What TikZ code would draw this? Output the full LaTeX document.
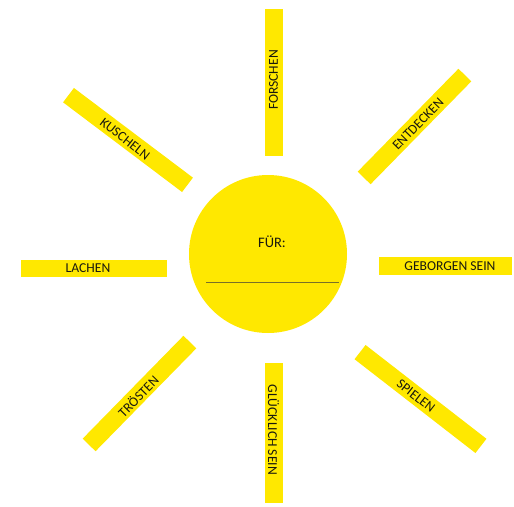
\documentclass[tikz,border=0pt]{standalone}
\usepackage{fontspec}
\setmainfont{Carlito}
\definecolor{sunyellow}{RGB}{255,232,0}
\definecolor{raytext}{RGB}{25,25,15}
\definecolor{lineol}{RGB}{120,112,40}
\begin{document}
\begin{tikzpicture}[x=1pt,y=-1pt,
  bar/.style={fill=sunyellow, draw=none, rectangle, inner sep=0pt, minimum height=18pt},
  raylabel/.style={text=raytext, font=\fontsize{13.6}{15}\selectfont, inner sep=0pt},
  sun/.style={circle, fill=sunyellow, draw=none, minimum size=158pt, inner sep=0pt}]
\useasboundingbox (0,0) rectangle (514,506);
\fill[white] (0,0) rectangle (514,506);
% sun
\node[sun] (sun) at (268,254) {};
\node[raylabel, font=\fontsize{14.5}{16}\selectfont] (fuer) at (272,242) {FÜR:};
\coordinate (lineL) at (206,282);
\coordinate (lineR) at (339,282);
\draw[lineol, line width=0.9pt] (lineL) -- (lineR);
% rays
\node[bar, minimum width=147pt, rotate=90] (forschen) at (273.5,82.5) {};
\node[raylabel, rotate=90] (forschenT) at (273.5,80) {FORSCHEN};
\node[bar, minimum width=140pt, rotate=-90] (gluecklich) at (273.5,433) {};
\node[raylabel, rotate=-90] (gluecklichT) at (273.5,430) {GLÜCKLICH SEIN};
\node[bar, minimum width=146pt, minimum height=17pt] (lachen) at (94,268.5) {};
\node[raylabel] (lachenT) at (88,268.5) {LACHEN};
\node[bar, minimum width=133pt] (geborgen) at (445.5,266) {};
\node[raylabel] (geborgenT) at (450,266) {GEBORGEN SEIN};
\node[bar, minimum width=149pt, rotate=-37] (kuscheln) at (128,140) {};
\node[raylabel, rotate=-38] (kuschelnT) at (125,139) {KUSCHELN};
\node[bar, minimum width=144pt, rotate=45.6] (entdecken) at (414.5,126.5) {};
\node[raylabel, rotate=45.6] (entdeckenT) at (418,124) {ENTDECKEN};
\node[bar, minimum width=144pt, rotate=45.6] (troesten) at (139.5,393.5) {};
\node[raylabel, rotate=45.6] (troestenT) at (138,396) {TRÖSTEN};
\node[bar, minimum width=153pt, rotate=-37.8] (spielen) at (420.5,399) {};
\node[raylabel, rotate=-37.8] (spielenT) at (416,396) {SPIELEN};
\end{tikzpicture}
\end{document}
